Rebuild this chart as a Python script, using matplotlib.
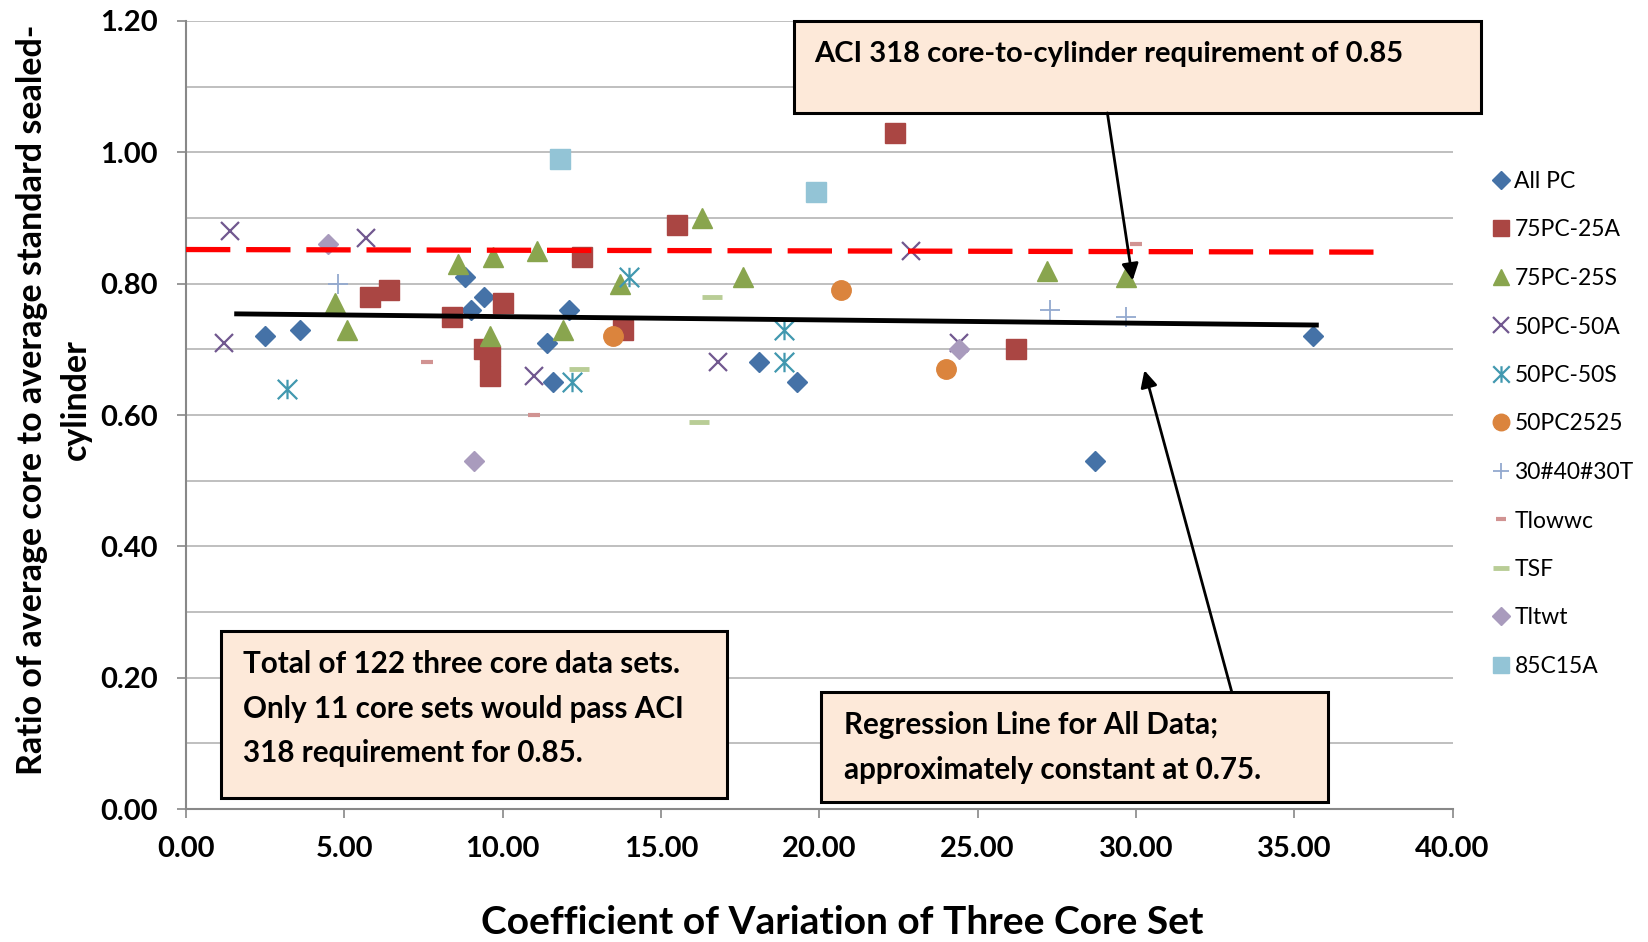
import numpy as np
import matplotlib.pyplot as plt
from matplotlib.path import Path
from matplotlib.patches import Rectangle

plt.rcParams['font.family'] = ['Lato', 'DejaVu Sans']

# data
allpc_x = [2.5, 3.6, 8.8, 9.0, 9.4, 11.4, 11.6, 12.1, 18.1, 19.3, 28.7, 35.6]
allpc_y = [0.72, 0.73, 0.81, 0.76, 0.78, 0.71, 0.65, 0.76, 0.68, 0.65, 0.53, 0.72]
pc75a_x = [5.8, 6.4, 8.4, 9.4, 9.6, 9.6, 10.0, 12.5, 13.8, 15.5, 22.4, 26.2]
pc75a_y = [0.78, 0.79, 0.75, 0.70, 0.69, 0.66, 0.77, 0.84, 0.73, 0.89, 1.03, 0.70]
pc75s_x = [4.7, 5.1, 8.6, 9.6, 9.7, 11.1, 11.9, 13.7, 16.3, 17.6, 27.2, 29.7]
pc75s_y = [0.77, 0.73, 0.83, 0.72, 0.84, 0.85, 0.73, 0.80, 0.90, 0.81, 0.82, 0.81]
pc50a_x = [1.2, 1.4, 5.7, 11.0, 16.8, 22.9, 24.4]
pc50a_y = [0.71, 0.88, 0.87, 0.66, 0.68, 0.85, 0.71]
pc50s_x = [3.2, 12.2, 14.0, 18.9, 18.9]
pc50s_y = [0.64, 0.65, 0.81, 0.73, 0.68]
pc2525_x = [13.5, 20.7, 24.0]
pc2525_y = [0.72, 0.79, 0.67]
t30_x = [4.8, 27.3, 29.7]
t30_y = [0.80, 0.76, 0.75]
tlowwc_x = [7.6, 11.0, 30.0]
tlowwc_y = [0.68, 0.60, 0.86]
tsf_x = [12.4, 16.2, 16.6]
tsf_y = [0.67, 0.59, 0.78]
tltwt_x = [4.5, 9.1, 24.4]
tltwt_y = [0.86, 0.53, 0.70]
c85_x = [11.8, 19.9]
c85_y = [0.99, 0.94]

aci_x = [0.0, 37.8]
aci_y = [0.852, 0.848]
reg_x = [1.6, 35.7]
reg_y = [0.754, 0.737]

# excel style asterisk
ast = Path([(-1, -1), (1, 1), (-1, 1), (1, -1), (0, -1), (0, 1)],
           [Path.MOVETO, Path.LINETO, Path.MOVETO, Path.LINETO, Path.MOVETO, Path.LINETO])

fig = plt.figure(figsize=(16.48, 9.42), dpi=100)
ax = fig.add_axes([186/1648, 1-809/942, (1452.5-186)/1648, (809-21)/942])

ax.plot(allpc_x, allpc_y, 'D', ms=10.5, color='#4572A7', mec='#4572A7', label='All PC', zorder=3)
ax.plot(pc75a_x, pc75a_y, 's', ms=14, color='#AA4643', mec='#AA4643', label='75PC-25A', zorder=3)
ax.plot(pc75s_x, pc75s_y, '^', ms=14, color='#89A54E', mec='#89A54E', label='75PC-25S', zorder=3)
ax.plot(pc50a_x, pc50a_y, 'x', ms=13, mew=1.6, color='#71588F', label='50PC-50A', zorder=3)
ax.plot(pc50s_x, pc50s_y, marker=ast, ls='none', ms=14, mew=1.6, mfc='none', color='#4198AF', label='50PC-50S', zorder=3)
ax.plot(pc2525_x, pc2525_y, 'o', ms=14, color='#DB843D', mec='#DB843D', label='50PC2525', zorder=3)
ax.plot(t30_x, t30_y, '+', ms=14, mew=1.3, color='#93A9CF', label='30#40#30T', zorder=3)
ax.plot(tlowwc_x, tlowwc_y, '_', ms=8, mew=3, color='#D19392', label='Tlowwc', zorder=3)
ax.plot(tsf_x, tsf_y, '_', ms=14, mew=3.5, color='#B9CD96', label='TSF', zorder=3)
ax.plot(tltwt_x, tltwt_y, 'D', ms=10.5, color='#A99BBD', mec='#A99BBD', label='Tltwt', zorder=3)
ax.plot(c85_x, c85_y, 's', ms=14, color='#93C4D6', mec='#93C4D6', label='85C15A', zorder=3)

ax.plot(aci_x, aci_y, color='red', lw=3.8, dashes=(8.4, 3.0), zorder=4)
ax.plot(reg_x, reg_y, color='black', lw=3.5, zorder=4)

ax.set_xlim(0, 40)
ax.set_ylim(0, 1.2)
ax.set_xticks(np.arange(0, 41, 5))
ax.set_xticklabels(['%.2f' % v for v in np.arange(0, 41, 5)])
ax.set_yticks(np.arange(0, 1.21, 0.2))
ax.set_yticklabels(['%.2f' % v for v in np.arange(0, 1.21, 0.2)])
ax.set_yticks(np.arange(0, 1.21, 0.1), minor=True)
ax.grid(axis='y', which='both', color='#B4B4B4', lw=1.2)
ax.set_axisbelow(True)
ax.tick_params(axis='y', which='minor', length=0)
ax.tick_params(which='major', length=6.5, width=1.2, color='#888888', labelsize=21, pad=14)
ax.tick_params(axis='x', pad=13)
for lab in ax.get_xticklabels() + ax.get_yticklabels():
    lab.set_fontweight('bold')
for s in ['top', 'right']:
    ax.spines[s].set_visible(False)
for s in ['left', 'bottom']:
    ax.spines[s].set_color('#888888')
    ax.spines[s].set_linewidth(1.5)

# text boxes
box_kw = dict(facecolor='#FDE9D9', edgecolor='black', lw=2.2, zorder=5, clip_on=False)
ax.add_patch(Rectangle((19.19, 1.0606), 21.7, 0.1394, **box_kw))
ax.add_patch(Rectangle((1.1, 0.0175), 16.0, 0.254, **box_kw))
ax.add_patch(Rectangle((20.06, 0.0107), 16.0, 0.167, **box_kw))

ax.text(19.85, 1.149, 'ACI 318 core-to-cylinder requirement of 0.85', fontsize=21,
        fontweight='bold', va='center', ha='left', zorder=6)
ax.text(1.8, 0.153, 'Total of 122 three core data sets.\nOnly 11 core sets would pass ACI\n318 requirement for 0.85.',
        fontsize=21.3, fontweight='bold', va='center', ha='left', linespacing=1.72, zorder=6)
ax.text(20.77, 0.0935, 'Regression Line for All Data;\napproximately constant at 0.75.',
        fontsize=21.3, fontweight='bold', va='center', ha='left', linespacing=1.72, zorder=6)

arr = dict(arrowstyle='-|>', color='black', lw=2, mutation_scale=25, shrinkA=0, shrinkB=0)
ax.annotate('', xy=(29.9, 0.805), xytext=(29.1, 1.06), arrowprops=arr, zorder=6)
ax.annotate('', xy=(30.27, 0.668), xytext=(33.03, 0.178), arrowprops=arr, zorder=6)

fig.text(842/1648, 1-923/942, 'Coefficient of Variation of Three Core Set', fontsize=28,
         fontweight='bold', ha='center', va='center')
fig.text(54/1648, 1-400/942, 'Ratio of average core to average standard sealed-\ncylinder',
         fontsize=24.5, fontweight='bold', ha='center', va='center', rotation=90,
         multialignment='center', linespacing=1.45)

fig.legend(loc='upper left', bbox_to_anchor=(1491.5/1648, 1-171/942), frameon=False,
           fontsize=16.5, markerscale=0.85, handlelength=0.8, handletextpad=0.2,
           labelspacing=1.2, borderaxespad=0, borderpad=0)

fig.savefig('out.png', dpi=100)
